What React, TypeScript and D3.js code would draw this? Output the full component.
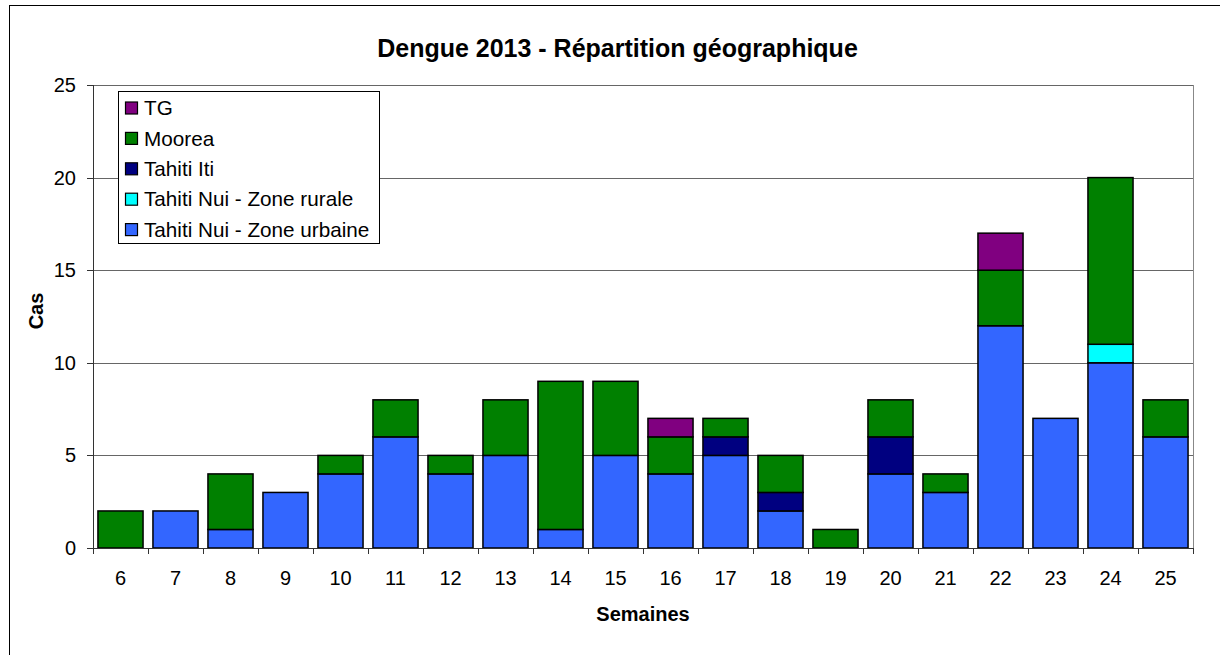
import React from "react";
import * as d3 from "d3";

const weeks = ["6","7","8","9","10","11","12","13","14","15","16","17","18","19","20","21","22","23","24","25"];
const urbaine = [0,2,1,3,4,6,4,5,1,5,4,5,2,0,4,3,12,7,10,6];
const rurale  = [0,0,0,0,0,0,0,0,0,0,0,0,0,0,0,0,0,0,1,0];
const iti     = [0,0,0,0,0,0,0,0,0,0,0,1,1,0,2,0,0,0,0,0];
const moorea  = [2,0,3,0,1,2,1,3,8,4,2,1,2,1,2,1,3,0,9,2];
const tg      = [0,0,0,0,0,0,0,0,0,0,1,0,0,0,0,0,2,0,0,0];
const yTicks = [0,5,10,15,20,25];

const seriesKeys = ["urbaine","rurale","iti","moorea","tg"];
const seriesNames: Record<string,string> = {
  urbaine: "Tahiti Nui - Zone urbaine",
  rurale: "Tahiti Nui - Zone rurale",
  iti: "Tahiti Iti",
  moorea: "Moorea",
  tg: "TG",
};
const colors: Record<string,string> = {
  urbaine: "#3366FF",
  rurale: "#00FFFF",
  iti: "#000080",
  moorea: "#008000",
  tg: "#800080",
};
const legendOrder = ["tg","moorea","iti","rurale","urbaine"];

export default function App() {
  const W = 1220, H = 655;
  const left = 93, right = 1193, top = 85, bottom = 548;
  const rows = weeks.map((w, i) => ({
    week: w, urbaine: urbaine[i], rurale: rurale[i], iti: iti[i], moorea: moorea[i], tg: tg[i],
  }));
  const stack = d3.stack<any>().keys(seriesKeys)(rows);
  const x = d3.scaleBand<string>().domain(weeks).range([left, right]).paddingInner(0.18).paddingOuter(0.09);
  const y = d3.scaleLinear().domain([0, 25]).range([bottom, top]);
  const step = x.step();
  const font = "'Liberation Sans', Arial, sans-serif";

  return (
    <svg width={W} height={H} style={{ position: "absolute", left: 0, top: 0, display: "block" }} fontFamily={font}>
      <rect x={0} y={0} width={W} height={H} fill="#fff" />
      <rect x={9.5} y={5.5} width={1300} height={800} fill="none" stroke="#000" strokeWidth={1} />
      <text x={617.5} y={57} textAnchor="middle" fontSize={25} fontWeight="bold">Dengue 2013 - Répartition géographique</text>
      {/* gridlines */}
      {yTicks.filter(t => t > 0).map(t => (
        <line key={"g"+t} x1={left} x2={right} y1={Math.round(y(t)) + 0.5} y2={Math.round(y(t)) + 0.5} stroke="#666" strokeWidth={1} />
      ))}
      <line x1={right + 0.5} x2={right + 0.5} y1={top} y2={bottom} stroke="#888" strokeWidth={1} />
      {/* bars */}
      {stack.map(s => s.map((d, i) => {
        const h = y(d[0]) - y(d[1]);
        if (h <= 0) return null;
        return (
          <rect key={s.key + i} x={x(weeks[i])!} y={y(d[1])} width={x.bandwidth()} height={h}
            fill={colors[s.key]} stroke="#000" strokeWidth={1.5} />
        );
      }))}
      {/* axes */}
      <line x1={left + 0.5} x2={left + 0.5} y1={top} y2={bottom} stroke="#333" strokeWidth={1} />
      <line x1={left} x2={right} y1={bottom + 0.5} y2={bottom + 0.5} stroke="#333" strokeWidth={1} />
      {yTicks.map(t => (
        <g key={"yt"+t}>
          <line x1={left - 6} x2={left} y1={Math.round(y(t)) + 0.5} y2={Math.round(y(t)) + 0.5} stroke="#333" />
          <text x={76} y={y(t)} dy="0.35em" textAnchor="end" fontSize={20}>{t}</text>
        </g>
      ))}
      {d3.range(weeks.length + 1).map(i => {
        const xx = Math.round(left + i * step) + 0.5;
        return <line key={"xt"+i} x1={xx} x2={xx} y1={bottom} y2={bottom + 6} stroke="#333" />;
      })}
      {weeks.map(w => (
        <text key={"xl"+w} x={x(w)! + x.bandwidth() / 2} y={585} textAnchor="middle" fontSize={20}>{w}</text>
      ))}
      <text x={643} y={621} textAnchor="middle" fontSize={20} fontWeight="bold">Semaines</text>
      <text transform="translate(43,311) rotate(-90)" textAnchor="middle" fontSize={20} fontWeight="bold">Cas</text>
      {/* legend */}
      <rect x={118.5} y={91.5} width={261} height={152} fill="#fff" stroke="#000" strokeWidth={1} />
      {legendOrder.map((k, i) => {
        const cy = 108 + i * 30.4;
        return (
          <g key={"lg"+k}>
            <rect x={125.5} y={cy - 6} width={12} height={12} fill={colors[k]} stroke="#000" strokeWidth={1.2} />
            <text x={144} y={cy} dy="0.35em" fontSize={20.7}>{seriesNames[k]}</text>
          </g>
        );
      })}
    </svg>
  );
}
